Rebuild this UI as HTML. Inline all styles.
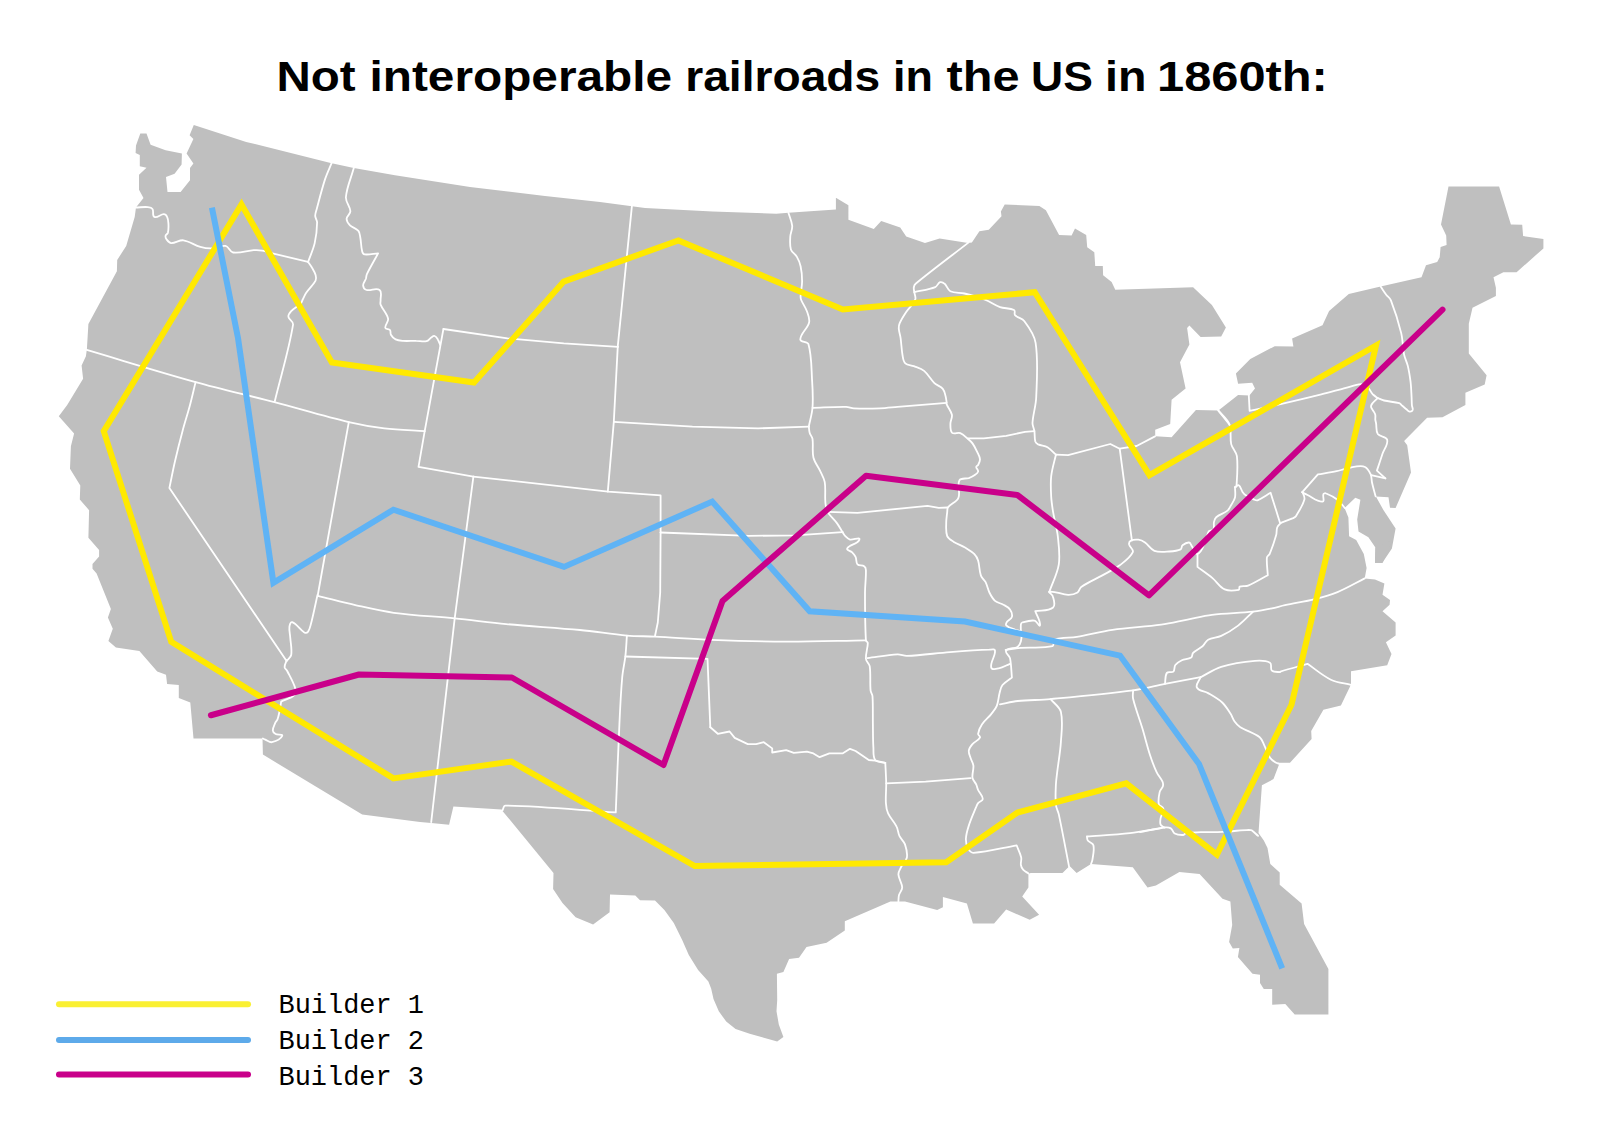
<!DOCTYPE html>
<html><head><meta charset="utf-8"><title>Not interoperable railroads</title>
<style>
html,body{margin:0;padding:0;background:#fff;}
body{width:1600px;height:1131px;overflow:hidden;position:relative;}
svg{position:absolute;left:0;top:0;}
</style></head><body>
<svg width="1600" height="1131" viewBox="0 0 1600 1131">
<rect width="1600" height="1131" fill="#fff"/>
<g font-family="'Liberation Sans', sans-serif" font-weight="bold" font-size="43" fill="#000">
<text x="276.50" y="91.45" textLength="79.13" lengthAdjust="spacingAndGlyphs">Not</text>
<text x="369.50" y="91.45" textLength="302.60" lengthAdjust="spacingAndGlyphs">interoperable</text>
<text x="685.25" y="91.45" textLength="194.88" lengthAdjust="spacingAndGlyphs">railroads</text>
<text x="893.00" y="91.45" textLength="39.88" lengthAdjust="spacingAndGlyphs">in</text>
<text x="946.50" y="91.45" textLength="73.09" lengthAdjust="spacingAndGlyphs">the</text>
<text x="1031.00" y="91.45" textLength="61.85" lengthAdjust="spacingAndGlyphs">US</text>
<text x="1105.00" y="91.45" textLength="41.43" lengthAdjust="spacingAndGlyphs">in</text>
<text x="1157.00" y="91.45" textLength="170.84" lengthAdjust="spacingAndGlyphs">1860th:</text>
</g>
<polygon points="193.8,125 246.2,141.9 330.6,163.1 353.8,168.1 395,175.2 470,186.9 545,195.9 600,202.1 631.9,206.2 645,208.1 712.5,211.5 776.2,213.8 788.4,212.8 835.9,209.6 835.9,197.8 848.4,205.3 848.4,219.8 873.8,229.1 881.2,220.9 900.2,227.5 906.2,236.5 925,242.9 939.6,238.4 968.1,242.9 971.9,242.5 979.4,231.2 988.8,229.8 1001.5,216.2 1000.9,211.6 1004.7,204.6 1039.4,205.9 1045.9,210.2 1059.1,235 1071.6,235.4 1075,228.4 1086.2,235 1087.2,247.2 1094.3,252.2 1095.2,265.9 1102.8,265.9 1103.1,275.3 1111.6,281.9 1115.3,289.8 1193.1,287.2 1211.9,305 1225.9,327.5 1221.2,336.5 1200.6,336.9 1189.4,325.6 1187.1,327.9 1189.4,344.4 1180,362.2 1185.6,388.4 1171.6,399.7 1170.2,424.1 1155.2,429.7 1155.2,436.2 1171.6,437.2 1195.9,410 1218.4,410.6 1238.1,395 1249.4,395.4 1255,388.4 1252.2,382.8 1238.1,383.8 1235.9,373.4 1250.3,359 1274.7,346.2 1293.4,346.6 1292.1,338.4 1322.5,325.2 1329.1,311 1348.8,294.1 1380.6,286.6 1421.5,277.2 1426,265.2 1437.2,261.9 1439.7,257.2 1440.6,246.9 1446.6,245 1446.2,235.6 1441,224.4 1448.5,186.5 1499.1,186.5 1510.9,224.4 1522.2,224.8 1523.1,236 1543.4,239 1543.4,248.4 1516.6,272.2 1503.4,272.2 1493.5,277.2 1495.9,287.8 1495.9,296 1472.5,307.8 1468.8,323.8 1468.8,353.4 1486.6,375.3 1484.7,384.4 1465.4,392.8 1465.4,405 1442.5,417.2 1427.1,417.8 1404.1,441 1407.2,445.3 1411,472.5 1395.6,508.1 1390,507.8 1388.5,497.2 1375.9,496.5 1383.4,510 1395.6,528.4 1391.9,548.4 1382.5,562.5 1375,562.9 1375.4,547.5 1368.4,537.2 1358.5,531.6 1357.2,519.4 1360.4,499.7 1355.3,497.8 1344.6,508.1 1348.4,517.5 1349.1,536.2 1356.2,540 1363.8,554.1 1366.6,568.1 1364.7,578.4 1375,579.4 1384.4,583.5 1382.5,594.8 1390,600 1389.6,604.7 1382.5,611.2 1395.6,622.5 1395.6,635.6 1385.9,642.2 1391.5,654 1387.2,665.2 1351,671.2 1351,684.4 1340.9,705.4 1323.4,709.7 1311.2,730.9 1311.6,739.1 1290,762.8 1279.7,762.8 1273.5,779.1 1261.9,785.3 1258.5,833.1 1263.8,840.6 1267.5,848.1 1270.3,864.1 1279.7,872.5 1279.7,884.7 1301.6,903.4 1304.1,924.1 1328.4,969.1 1328.4,1014.6 1294.7,1014.6 1285.3,1004.1 1272.2,1004.7 1272.2,989.1 1263.8,989.1 1260,983.1 1260,974.7 1252.5,973.8 1237.9,956.9 1239.4,947.9 1232.8,948.4 1229.1,941.9 1232.2,925 1230.4,901.6 1222.5,898.8 1199.6,874 1179.4,872.1 1155.9,885.6 1147.5,887.5 1132.8,867.2 1091,864.1 1076.6,872.9 1069.6,865.9 1062.5,872.9 1030.6,872.9 1028.4,874 1028.4,887.5 1022.2,896.5 1039.1,914.7 1029.7,919.8 1006.2,909.6 994.1,923.5 972.9,923.5 966.9,903.4 942.9,896.9 942.9,907.2 937.2,910 905,901.6 890.4,901.6 844.8,921.2 844.8,930.6 826.6,942.8 806.5,947.1 799,957.8 789.1,959.1 783.4,971.9 776.9,973.8 777.2,1000 776.5,1011.2 778.8,1024.4 783.4,1037.1 777.2,1041.6 749.7,1033.8 735.6,1029.1 726.2,1021.6 718.8,1011.2 713.5,999.1 711.2,988.8 708.4,981.6 698.1,970 688.8,955 682.2,940 673.8,923.1 664.4,910 655,900.6 640,900.2 635.3,895.4 610,894.6 609.6,912.2 593.1,924.6 575.6,917.2 562.5,903.1 553.1,889.1 553.5,873.1 502.5,810.9 501.6,809.4 453.4,806.6 449.1,824.8 431.2,822.9 420,822.1 362.2,814.6 262.9,754.6 262.5,738.5 193.5,738.5 190.3,702.5 178.8,698.1 178.8,685 167.1,684.1 166,674.7 157.2,671.5 139.4,650.9 115.9,647.5 108.4,640.9 112.8,628.8 107.9,617.5 110.9,609.1 96.6,573.4 92.5,568.8 92.5,564.1 99.1,556.6 99.1,550 88.4,537.8 89.1,510.2 79.8,499.4 80.3,485.6 70,468.8 70.9,446.2 74.1,433.5 58.8,416.2 67.2,405 83.1,378.8 81.6,365.6 85.9,356.2 86.9,349.1 88.4,324 116.9,271.2 117.2,260 126.2,245.9 134.7,216.9 136,207.5 137.5,205.6 143.5,198.1 139,189.7 139,174.7 146.5,167.8 139.8,166.2 139.8,155 135.6,153.1 136,145.6 140.3,133.4 146.5,133.4 150.6,144.7 165.6,150.3 181.9,153.5 181.6,164.4 174.6,173.8 166,177.1 167.5,191.9 180.6,191.9 190,180.3 190,168.1 193.4,163.4 186.6,153.5 193.4,139.1 189.6,135.3" fill="#bfbfbf"/>
<polygon points="1375.4,547.5 1375,562.9 1382.5,562.9 1392.8,540" fill="#bfbfbf"/>
<g fill="none" stroke="#fff" stroke-width="1.8" stroke-linejoin="round" stroke-linecap="round">
<path d="M136,207.5 C139.9,207.4 143.9,206.7 147.8,207.1 C149.5,207.3 151.6,207.6 152.5,209 C154.0,211.2 151.9,215.8 154.4,216.9 C157.4,218.2 160.5,214.1 163.8,214.1 C165.2,214.1 166.5,215.6 167.1,216.9 C168.1,218.9 168.3,221.2 168.4,223.4 C168.6,226.5 168.6,229.7 167.9,232.8 C167.6,234.0 165.8,234.4 165.6,235.6 C165.3,236.9 165.8,238.4 166.6,239.4 C167.8,241.0 169.2,243.0 171.2,243.1 C175.4,243.3 179.3,239.8 183.4,240.3 C189.4,241.1 194.5,245.3 200.3,246.9 C204.2,248.0 208.4,248.6 212.5,248.4 C216.9,248.2 221.2,245.0 225.6,245.9 C228.9,246.6 229.8,252.0 233.1,252.5 C240.0,253.5 246.9,250.7 253.8,250.2 C256.6,250.0 259.4,250.1 262.2,250.6 C265.7,251.2 269.0,252.5 272.5,253.4 C284.3,256.3 296.2,259.1 308.1,261.9"/>
<path d="M331.6,163.1 C329.4,168.5 326.8,173.8 325,179.4 C321.8,189.3 319.3,199.4 316.6,209.4 C316.0,211.5 315.1,213.7 315.2,215.9 C315.3,218.2 317.1,220.2 317.1,222.5 C317.0,229.4 316.2,236.4 314.7,243.1 C313.2,249.6 310.3,255.6 308.1,261.9"/>
<path d="M308.1,261.9 C309.4,263.8 310.8,265.5 311.9,267.5 C313.3,269.9 314.8,272.3 315.6,275 C316.1,276.8 316.5,278.9 315.6,280.6 C313.2,285.1 309.1,288.5 306.2,292.8 C304.7,295.0 303.7,297.6 302.5,300 C301.9,301.3 301.6,302.8 300.6,303.8 C297.8,306.6 293.9,308.3 291.2,311.2 C289.8,312.7 288.1,314.8 288.4,316.9 C288.8,319.8 293.6,321.5 293.1,324.4 C288.9,350.4 280.9,375.6 274.8,401.2"/>
<path d="M85.9,349.7 C122.5,360.5 158.9,371.9 195.6,382.1 C221.7,389.4 248.2,395.3 274.4,402.2 C299.2,408.7 323.8,416.2 348.8,422.2 C360.5,425.0 372.4,427.0 384.4,428.4 C397.8,430.0 411.3,430.3 424.7,431.2"/>
<path d="M195.6,382.1 C193.7,389.7 192.0,397.4 190,405 C187.7,413.8 184.8,422.4 182.5,431.2 C179.8,441.2 177.3,451.2 175,461.2 C172.9,470.1 171.3,479.1 169.4,488 L169.4,488 L286.6,661"/>
<path d="M286.9,659.8 C286.1,662.3 284.5,664.6 284.6,667.2 C284.6,668.7 286.5,669.6 287.2,671 C290.1,676.7 293.5,682.3 295.3,688.4 C295.9,690.5 296.0,693.5 294.4,695 C290.8,698.4 285.6,699.4 281.2,701.6 L281.2,701.6 C280.5,705.7 279.8,709.8 279,713.8 C278.6,715.7 278.2,717.6 277.5,719.4 C277.1,720.4 276.0,721.2 275.6,722.2 C274.5,724.9 272.8,727.6 272.8,730.6 C272.8,732.1 274.3,733.3 275.6,734 C277.6,735.1 283.1,733.8 282.2,735.9 C280.5,739.6 275.8,741.3 271.9,742.2 C269.6,742.7 267.5,740.5 265.3,739.6 C264.5,739.3 263.7,738.9 262.9,738.5"/>
<path d="M286.6,661 C288.1,659.0 290.8,657.5 291.2,655 C292.1,649.4 290.7,643.7 290.3,638.1 C290.1,634.4 289.0,630.6 289.4,626.9 C289.6,625.1 290.5,621.6 292.2,622.2 C297.2,624.1 299.8,629.8 304.4,632.5 C305.5,633.1 307.3,632.6 308.1,631.6 C309.7,629.5 310.2,626.7 310.9,624.1 C313.4,614.5 315.3,604.7 317.5,595"/>
<path d="M348.8,422.2 L336.6,490 L317.8,595"/>
<path d="M317.8,595.9 C330.6,599.0 343.3,602.4 356.2,605.3 C368.7,608.1 381.1,611.1 393.8,612.8 C414.0,615.5 434.4,616.4 454.7,618.4 C471.9,620.1 489.0,622.5 506.2,624.1 C530.8,626.4 555.4,627.7 580,630 C595.7,631.5 611.2,634.2 626.9,635.6 C636.2,636.4 645.6,636.1 655,636.6 C673.7,637.5 692.4,639.1 711.2,639.8 C736.2,640.8 761.2,641.5 786.2,641.6 C812.8,641.7 839.3,640.7 865.9,640.3"/>
<path d="M454.7,618.4 L431.2,822.1"/>
<path d="M473.4,476.6 L454.7,618.4"/>
<path d="M353.8,168.1 C351.2,177.8 346.7,187.2 345.9,197.2 C345.5,202.1 350.2,206.3 350.4,211.2 C350.5,214.0 346.7,216.0 346.6,218.8 C346.5,221.2 348.3,223.5 350,225.3 C352.3,227.7 356.2,228.3 358.4,230.9 C359.9,232.6 359.9,235.2 360.3,237.5 C361.2,242.2 361.0,247.0 362.2,251.6 C362.5,252.8 363.4,254.3 364.6,254.4 C369.1,254.9 373.6,253.7 378.1,253.4 L378.1,253.4 C374.4,260.3 370.3,267.0 366.9,274.1 C366.2,275.5 366.4,277.3 365.9,278.8 C365.1,281.0 363.0,282.9 363.1,285.3 C363.2,287.2 364.6,289.5 366.5,290 C370.7,291.2 376.0,287.5 379.6,290 C382.3,291.9 380.4,296.7 380.6,300 C380.7,301.6 380.0,303.2 380.6,304.7 C382.6,309.6 387.0,313.6 388.1,318.8 C388.7,321.9 384.8,324.7 385.3,327.8 C385.6,329.5 388.9,328.7 390,330 C391.0,331.2 390.1,333.3 390.9,334.7 C392.0,336.6 393.6,338.4 395.6,339.4 C397.9,340.6 400.6,340.7 403.1,340.9 C407.5,341.2 411.8,340.8 416.2,340.9 C419.7,340.9 423.2,342.0 426.6,341.2 C428.5,340.8 429.6,338.6 431.2,337.5 C432.2,336.8 433.4,335.7 434.6,336 C436.1,336.4 437.0,338.1 437.8,339.4 C438.9,341.1 439.4,343.1 440.2,345"/>
<path d="M443.4,329.1 L424.7,431.2 L418.5,466.9 L473.4,476.6"/>
<path d="M443.4,329 L507.5,338.4 L563.8,343.4 L618.1,346.8"/>
<path d="M473.4,476.6 L608.1,491.6 L660.6,495.4 L660.6,532.5"/>
<path d="M660.6,532.5 L660.2,592.5 L657.8,622.5 L655,636"/>
<path d="M631.9,206.2 L617.8,345.9 L613.8,421.9 L607.8,491.6"/>
<path d="M613.8,421.9 L692.5,426.6 L758.1,428.4 L808.8,426.6"/>
<path d="M660.6,532.5 L748.8,535.9 L795.6,535.3 L842.5,532.1"/>
<path d="M788.4,212.8 C789.7,217.2 791.8,221.4 792.2,225.9 C792.5,229.4 790.5,232.7 790.3,236.2 C790.1,240.6 789.6,245.2 790.9,249.4 C791.9,252.5 795.3,254.1 796.9,256.9 C798.6,259.8 799.9,262.9 800.6,266.2 C801.7,271.1 802.1,276.2 802.1,281.2 C802.1,286.2 800.8,291.2 800.6,296.2 C800.5,297.5 800.7,298.8 801.2,300 C802.8,303.9 805.5,307.2 806.9,311.2 C808.2,314.8 810.0,318.8 809.1,322.5 C807.7,328.7 800.5,333.1 800.3,339.4 C800.2,342.5 807.5,341.1 808.4,344.1 C811.8,355.9 811.3,368.4 812.1,380.6 C812.7,389.6 813.1,398.8 812.5,407.8 C812.0,414.2 810.0,420.3 808.8,426.6"/>
<path d="M808.8,426.6 C809.1,428.8 809.1,431.0 809.7,433.1 C810.3,435.1 812.2,436.7 812.5,438.8 C813.4,445.0 812.0,451.4 813.4,457.5 C814.5,462.3 817.9,466.2 820,470.6 C821.7,474.3 824.0,477.9 824.7,481.9 C825.7,487.4 825.0,493.2 825.2,498.8 C825.3,500.7 825.3,502.6 825.6,504.4 C826.0,506.9 826.2,509.7 827.5,511.9 C830.0,516.1 834.0,519.2 836.9,523.1 C839.0,525.9 840.6,529.1 842.5,532.1"/>
<path d="M842.5,532.1 C843.4,533.5 844.1,535.0 845.3,536.2 C846.7,537.6 848.1,539.1 850,539.6 C853.0,540.3 860.4,536.6 859.4,539.6 C857.9,544.4 849.8,544.1 847.2,548.4 C846.2,550.1 850.5,550.8 851.9,552.2 C853.3,553.6 854.8,555.1 855.6,556.9 C856.7,559.2 855.8,562.5 857.5,564.4 C859.0,566.1 862.2,564.9 864.1,566.2 C865.3,567.0 865.9,568.6 865.9,570 C866.2,577.5 865.0,585.0 865,592.5 C865.0,608.4 865.0,624.4 865.9,640.3 C866.0,641.4 867.8,642.0 867.8,643.1 C867.8,648.4 865.5,653.5 865.9,658.8 C866.1,661.6 869.3,663.5 869.7,666.2 C870.9,674.3 869.8,682.5 870.6,690.6 C870.8,692.6 872.4,694.2 872.5,696.2 C873.1,705.6 872.7,715.0 872.9,724.4 C873.0,732.2 872.9,740.0 873.4,747.8 C873.7,751.9 872.7,756.8 875.3,760 C877.5,762.7 882.0,761.9 885.3,762.8"/>
<path d="M812.5,407.8 C823.7,407.5 835.0,406.7 846.2,406.9 C848.8,406.9 851.2,408.3 853.8,408.4 C862.5,408.8 871.3,408.7 880,408.4 C885.9,408.2 891.7,407.4 897.5,406.9 C913.9,405.5 930.2,404.2 946.6,402.8"/>
<path d="M827.5,511.9 L857.5,512.8 L927.5,505.9 L938.8,507.8 L947.5,507.5"/>
<path d="M502.5,810.3 C503.4,808.7 503.5,805.6 505.3,805.6 C542.2,806.3 578.9,810.1 615.75,812.4 L615.75,812.4 C617.0,783.1 618.0,753.7 619.4,724.4 C620.1,708.8 620.8,693.1 622.2,677.5 C622.8,670.2 624.6,663.1 625.4,655.9 C626.2,649.2 626.4,642.4 626.9,635.6"/>
<path d="M625.4,656.5 L707.5,658.8 L710.3,727.2"/>
<path d="M710.3,727.2 L717.8,733.8 L729.6,731.5 L734.7,737.9 L747.8,744.1 L756.2,744.1 L763.8,742.2 L772.2,748.4 L772.2,752.5 L786.2,750.2 L793.8,752.9 L806.9,751.6 L813.4,753.4 L819.6,757.2 L829.4,753.4 L842.5,753.4 L850,748.8 L855.6,751 L868.8,760 L875.3,760.6 L885.3,762.8"/>
<path d="M885.3,762.8 C885.6,769.7 886.1,776.5 886.2,783.4 C886.3,790.0 885.5,796.5 885.9,803.1 C886.1,806.6 886.6,810.2 888.1,813.4 C890.3,818.2 894.3,821.9 896.6,826.6 C898.1,829.5 898.0,833.0 899.4,835.9 C900.8,839.0 903.9,841.2 905,844.4 C906.4,848.6 907.6,853.1 906.9,857.5 C906.3,861.1 902.8,863.6 901.2,866.9 C900.0,869.3 898.3,871.7 898.4,874.4 C898.6,878.9 902.1,883.0 902.2,887.5 C902.3,890.2 899.7,892.4 899,895 C898.4,897.1 898.6,899.4 898.4,901.6"/>
<path d="M886.2,783.4 L925.6,781.6 L970.6,778.2"/>
<path d="M867.5,658.1 C877.5,656.9 887.4,655.0 897.5,654.4 C900.7,654.2 903.7,656.0 906.9,655.9 C921.3,655.3 935.6,653.2 950,652.1 C963.1,651.1 976.2,650.1 989.4,649.7 C991.3,649.6 994.8,648.7 995,650.6 C995.6,656.3 990.0,661.9 991.2,667.5 C991.7,670.0 996.3,668.9 998.8,668.4 C1002.8,667.6 1006.3,665.3 1010,663.8"/>
<path d="M968.1,242.9 C950.6,256.5 932.7,269.7 915.6,283.8 C914.5,284.7 914.0,286.1 913.8,287.5 C913.6,289.1 914.1,290.6 914.3,292.2 C914.6,294.7 916.2,297.4 915.2,299.7 C913.3,304.4 909.0,307.7 906.2,311.9 C903.8,315.5 901.4,319.1 899.7,323.1 C898.9,324.9 898.7,326.9 898.8,328.8 C899.0,332.0 900.2,335.0 900.6,338.1 C901.4,343.7 901.5,349.4 902.5,355 C903.0,357.9 903.2,361.3 905.3,363.4 C907.4,365.5 911.0,365.1 913.8,366.2 C917.3,367.6 921.2,368.5 924.1,370.9 C928.2,374.3 930.6,379.4 934.4,383.1 C936.8,385.4 940.6,386.2 942.8,388.8 C944.5,390.8 944.9,393.7 945.6,396.2 C946.1,398.1 946.3,400.1 946.6,402.1 C946.7,402.8 946.3,403.5 946.6,404.1 C948.1,407.8 951.1,410.9 951.9,414.8 C952.5,417.8 950.3,420.8 950.4,423.8 C950.5,426.9 950.0,430.7 952.2,432.8 C954.2,434.6 957.8,432.1 960.3,433.1 C963.2,434.2 965.4,436.8 967.8,438.8 C969.5,440.2 971.2,441.6 972.5,443.4 C974.4,446.0 975.8,449.0 977.2,451.9 C978.3,454.3 979.8,456.7 980,459.4 C980.1,461.4 979.0,463.2 978.1,465 C977.7,465.8 976.2,466.0 976.2,466.9 C976.2,468.6 978.5,469.9 978.1,471.6 C977.7,473.3 975.8,474.3 974.4,475.3 C972.7,476.5 970.8,477.4 968.8,478.1 C965.7,479.1 960.9,477.5 959.4,480.4 C956.7,485.5 960.7,492.4 958.4,497.8 C956.6,502.1 951.0,503.5 948.1,507.2 C947.1,508.5 947.4,510.5 947.2,512.1 C946.8,515.8 946.2,519.4 946.2,523.1 C946.2,527.5 945.6,532.1 947.2,536.2 C948.3,538.9 951.3,540.3 953.8,541.9 C957.3,544.1 961.4,545.4 965,547.5 C968.3,549.5 971.7,551.4 974.4,554.1 C976.2,555.9 977.4,558.2 978.1,560.6 C979.6,565.5 979.2,570.8 980.9,575.6 C981.8,578.2 984.4,579.8 985.6,582.2 C987.2,585.5 987.8,589.2 989.4,592.5 C990.9,595.5 992.5,598.7 995,600.9 C997.3,602.9 1000.7,603.2 1003.4,604.7 C1005.7,606.0 1008.5,607.2 1010,609.4 C1011.5,611.5 1012.5,614.4 1011.9,616.9 C1011.4,619.1 1008.4,619.8 1007.2,621.6 C1006.5,622.7 1005.3,624.4 1006.2,625.3 C1008.7,627.8 1012.4,628.6 1015.6,630 C1017.3,630.8 1020.1,630.2 1020.9,631.9 C1022.2,634.7 1021.6,638.2 1020.9,641.2 C1020.4,643.4 1019.4,645.7 1017.5,646.9 C1014.2,649.0 1008.4,647.3 1006.2,650.6 C1004.6,652.9 1009.4,655.4 1010,658.1 C1011.3,664.5 1011.3,671.0 1011.9,677.5 L1011.9,677.5 C1008.8,680.0 1005.0,681.9 1002.5,685 C1000.8,687.1 1000.4,689.9 999.7,692.5 C998.5,696.8 998.5,701.4 996.9,705.6 C995.7,708.8 993.3,711.4 991.2,714.1 C988.3,717.7 984.5,720.5 981.9,724.4 C980.0,727.2 978.6,730.5 978.1,733.8 C977.9,735.2 980.7,736.3 980,737.5 C978.4,740.4 974.7,741.6 972.5,744.1 C970.9,746.0 969.1,748.1 968.8,750.6 C968.5,753.1 969.8,755.6 970.6,758.1 C971.4,760.7 973.1,762.9 973.4,765.6 C973.8,769.7 971.9,773.8 972.5,777.8 C972.9,780.3 975.1,782.1 976.2,784.4 C977.0,786.2 977.3,788.2 978.1,790 C979.5,793.1 982.8,795.6 982.8,799 C982.8,801.1 979.4,801.5 978.1,803.1 C977.2,804.2 976.7,805.6 976.2,806.9 C973.6,813.1 970.9,819.2 968.8,825.6 C967.4,829.9 966.1,834.3 965.9,838.8 C965.8,842.0 966.3,845.3 967.8,848.1 C969.0,850.2 971.0,852.9 973.4,852.8 C988.0,852.0 1002.2,847.8 1016.6,845.3 L1016.6,845.3 C1018.1,849.4 1020.3,853.3 1021.2,857.5 C1021.7,859.9 1020.5,862.5 1020.9,865 C1021.2,866.7 1021.9,868.4 1023.1,869.7 C1024.5,871.3 1026.6,872.2 1028.4,873.4"/>
<path d="M914.3,292.2 C921.3,290.5 928.6,289.7 935.3,287.1 C937.4,286.3 937.9,282.9 940,282.2 C941.6,281.7 943.5,282.7 944.7,283.8 C947.0,285.8 947.5,289.8 950.3,291.2 C954.6,293.3 959.8,292.4 964.4,293.5 C971.4,295.2 978.3,297.1 985,299.7 C990.2,301.7 994.7,305.3 1000,307.2 C1004.5,308.8 1009.9,307.7 1014.1,310 C1015.7,310.8 1013.8,313.9 1015,315.2 C1017.5,317.9 1022.2,318.2 1024.4,321.2 C1029.3,327.7 1034.4,334.8 1035.6,342.8 C1038.4,360.8 1036.9,379.3 1036.2,397.5 C1035.9,406.0 1033.0,414.3 1032.5,422.8 C1032.3,425.7 1034.0,428.4 1034.4,431.2 C1034.9,434.6 1034.4,438.2 1035.3,441.6 C1035.7,442.9 1036.9,443.8 1038.1,444.4 C1041.1,445.8 1044.7,445.6 1047.5,447.2 C1050.7,449.1 1053.1,452.2 1055.9,454.7"/>
<path d="M967.8,438.4 L983.8,438.4 L1006.2,435.9 L1025,431.8 L1034.4,431.2"/>
<path d="M1055.9,454.7 L1068.1,455.2 L1110.3,444 L1119.7,448.7 L1136.6,446 L1155,436.4"/>
<path d="M1055.9,454.7 C1054.3,461.9 1052.0,468.9 1051.2,476.2 C1050.4,483.1 1050.8,490.0 1051.2,496.9 C1051.5,502.0 1052.3,507.1 1053.1,512.1 C1054.5,520.2 1056.9,528.1 1057.8,536.2 C1058.8,545.6 1060.2,555.1 1058.8,564.4 C1057.4,573.9 1052.5,582.5 1049.4,591.6"/>
<path d="M1020.9,631.9 C1020.9,629.4 1020.6,626.9 1020.9,624.4 C1021.0,623.6 1021.5,622.7 1022.2,622.5 C1026.2,621.4 1030.3,620.0 1034.4,620.6 C1036.8,621.0 1039.8,627.7 1040,625.3 C1040.5,620.4 1036.9,615.9 1035.3,611.2 L1035.3,611.2 C1041.2,610.0 1048.5,611.4 1053.1,607.5 C1056.0,605.0 1053.7,599.9 1052.8,596.2 C1052.4,594.3 1047.5,591.8 1049.4,591.6 C1055.7,591.0 1061.8,594.6 1068.1,594.8 C1071.3,594.9 1074.7,594.2 1077.5,592.5 C1079.4,591.3 1079.4,588.2 1081.2,586.9 C1087.7,582.4 1095.0,579.4 1101.9,575.6 C1107.9,572.2 1114.2,569.4 1119.7,565.3 C1124.6,561.6 1130.3,557.8 1132.8,552.2 C1134.0,549.6 1129.6,547.2 1129.1,544.4 C1128.9,543.0 1129.6,541.2 1130.9,540.6 C1133.1,539.5 1135.9,539.4 1138.4,539.7 C1140.8,540.0 1143.0,541.1 1145,542.5 C1148.4,544.9 1150.5,549.4 1154.4,550.9 C1159.1,552.6 1164.4,551.8 1169.4,551.5 C1173.2,551.3 1177.2,551.0 1180.6,549.4 C1182.0,548.8 1181.3,546.2 1182.5,545.3 C1184.4,543.8 1186.7,542.3 1189.1,542.5 C1190.6,542.6 1191.0,545.0 1191.9,546.2 C1193.8,548.7 1194.5,554.7 1197.5,553.8 C1201.9,552.6 1203.0,546.5 1205,542.5 C1206.8,538.9 1206.7,534.5 1208.8,531.2 C1209.7,529.8 1212.6,530.8 1213.4,529.4 C1214.6,527.2 1213.4,524.3 1214,521.9 C1214.4,520.2 1214.9,518.3 1216.2,517.2 C1219.5,514.4 1224.1,513.4 1227.5,510.6 C1229.2,509.2 1230.1,506.9 1231.2,505 C1232.6,502.6 1234.4,500.2 1235,497.5 C1235.7,494.1 1235.0,490.6 1235,487.2"/>
<path d="M1119.7,448.7 L1131.9,540.5"/>
<path d="M1218.1,410.3 C1221.9,415.0 1227.2,418.8 1229.4,424.4 C1231.8,430.5 1229.7,437.7 1231.2,444.1 C1232.2,448.4 1236.3,451.8 1236.9,456.2 C1238.1,466.1 1237.1,476.2 1236.5,486.2 C1236.5,486.8 1235.5,486.9 1235,487.2"/>
<path d="M1235,487.2 C1236.3,486.6 1237.6,484.5 1238.8,485.3 C1240.9,486.6 1241.0,489.9 1242.5,491.9 C1243.5,493.3 1244.7,494.6 1246.2,495.6 C1248.6,497.2 1251.2,498.3 1253.8,499.4 C1255.0,499.9 1256.3,500.8 1257.5,500.3 C1262.2,498.5 1266.2,495.3 1270.6,492.8 L1270.6,492.8 C1272.5,498.7 1274.3,504.7 1276.2,510.6 C1277.5,514.7 1278.7,518.7 1280,522.8"/>
<path d="M1280.9,522.8 C1285.0,521.2 1289.1,519.9 1293.1,518.1 C1294.1,517.6 1295.3,517.2 1295.9,516.2 C1299.1,510.8 1302.8,505.5 1304.4,499.4 C1305.1,496.9 1303.1,494.4 1302.5,491.9 L1302.5,491.9 L1317.9,474.4 L1317.9,474.4 C1324.1,473.3 1330.4,472.3 1336.6,471.1 C1339.3,470.6 1342.0,469.7 1344.75,469.1 C1348.3,468.3 1351.7,467.0 1355.3,466.65 C1358.5,466.3 1362.1,465.5 1365,467 C1367.8,468.4 1369.4,471.6 1370.7,474.4 C1371.8,476.9 1371.4,479.8 1372,482.5 C1373.0,487.1 1374.4,491.7 1375.6,496.3"/>
<path d="M1371.2,475.2 L1385.4,478.4"/>
<path d="M1301.9,492.2 C1303.8,493.1 1305.6,494.1 1307.5,495 C1312.5,497.3 1317.0,501.9 1322.5,501.6 C1325.0,501.5 1322.4,496.4 1323.4,494.1 C1323.8,493.2 1325.3,493.1 1326.2,493.5 C1330.2,495.1 1334.1,497.1 1337.5,499.7 C1340.5,502.0 1342.5,505.3 1345,508.1"/>
<path d="M1197.5,553.8 L1197.5,566.9 L1197.5,566.9 C1202.5,570.6 1207.7,574.1 1212.5,578.1 C1216.8,581.6 1219.6,587.1 1224.7,589.4 C1229.0,591.3 1234.2,590.7 1238.8,589.8 C1239.9,589.6 1238.7,587.1 1239.7,586.6 C1242.3,585.4 1245.5,586.7 1248.1,585.6 C1255.0,582.8 1261.2,578.7 1267.8,575.3 L1267.8,575.3 C1267.5,569.4 1266.4,563.4 1266.9,557.5 C1267.0,556.0 1269.1,555.2 1269.7,553.8 C1272.2,547.7 1274.4,541.4 1276.2,535 C1276.9,532.6 1276.3,529.9 1277.2,527.5 C1277.9,525.6 1279.7,524.4 1280.9,522.8"/>
<path d="M1005.6,650 C1010.6,649.3 1015.6,648.2 1020.6,647.8 C1031.2,646.9 1042.1,648.7 1052.5,646.2 C1054.7,645.7 1052.3,640.5 1054.4,639.7 C1061.5,637.0 1069.4,638.2 1076.9,636.9 C1088.8,634.9 1100.5,631.5 1112.5,629.8 C1128.7,627.5 1145.0,626.9 1161.2,624.7 C1170.0,623.5 1178.7,621.3 1187.5,619.6 C1195.6,618.0 1203.7,615.8 1211.9,614.8 C1225.6,613.1 1239.4,613.1 1253.1,611.6 C1259.4,610.9 1265.7,609.7 1271.9,608.4 C1276.3,607.5 1280.6,606.1 1285,605.2 C1295.0,603.0 1305.1,601.6 1315,599.1 C1322.6,597.2 1330.2,595.1 1337.5,592.1 C1346.9,588.2 1355.6,583.0 1364.7,578.4"/>
<path d="M1253.1,611.6 C1248.1,616.3 1243.5,621.5 1238.1,625.6 C1232.9,629.6 1227.2,633.1 1221.2,635.9 C1217.1,637.8 1212.1,637.5 1208.1,639.7 C1205.6,641.1 1204.7,644.3 1202.5,646.2 C1199.6,648.7 1195.8,650.1 1193.1,652.8 C1191.9,654.0 1192.6,656.6 1191.2,657.5 C1188.5,659.3 1184.8,658.9 1181.9,660.3 C1179.5,661.5 1176.9,662.8 1175.3,665 C1173.9,666.8 1175.1,670.0 1173.4,671.6 C1171.8,673.1 1168.2,671.1 1166.9,672.9 C1164.8,675.9 1165.6,680.2 1165,683.8"/>
<path d="M1000,704.4 C1005.9,703.3 1011.8,701.6 1017.8,701 C1028.7,699.9 1039.7,700.1 1050.6,699.1 C1078.1,696.5 1105.7,694.0 1133.1,690.3 C1143.9,688.9 1154.3,685.9 1165,683.8 C1176.8,681.5 1188.7,679.4 1200.6,677.2"/>
<path d="M1200.6,677.2 C1207.5,673.8 1213.8,669.1 1221.2,666.9 C1232.2,663.6 1243.6,661.9 1255,660.9 C1260.0,660.5 1265.6,660.3 1270,662.8 C1272.3,664.1 1269.9,668.8 1271.9,670.6 C1274.0,672.5 1277.5,671.8 1280.3,672.1 C1280.5,672.1 1280.1,671.6 1280.3,671.6 C1289.3,668.8 1298.4,666.4 1307.5,663.8 L1307.5,663.8 C1315.3,669.1 1322.4,675.6 1330.9,679.7 C1337.1,682.7 1344.3,683.1 1351,684.8"/>
<path d="M1200.6,677.2 C1199.4,680.6 1195.3,684.2 1196.9,687.5 C1198.7,691.3 1204.5,691.0 1208.1,693.1 C1213.0,696.0 1218.0,698.7 1222.2,702.5 C1225.7,705.7 1228.0,709.9 1230.6,713.8 C1232.1,716.1 1232.8,718.9 1234.4,721.2 C1236.0,723.4 1237.7,725.5 1240,726.9 C1246.3,730.9 1253.8,732.7 1259.7,737.2 C1262.2,739.2 1263.0,742.7 1264.4,745.6 C1266.4,749.6 1267.5,754.1 1270,757.8 C1271.3,759.8 1273.5,761.2 1275.6,762.5 C1276.8,763.3 1278.3,763.4 1279.7,763.8"/>
<path d="M1050.6,699.1 C1054.0,703.4 1059.6,706.6 1060.9,711.9 C1063.2,721.6 1061.5,731.9 1060.9,741.9 C1060.3,752.0 1058.4,762.0 1057.2,772.1 C1056.7,776.2 1056.1,780.3 1055.9,784.4 C1055.6,791.3 1055.2,798.2 1055.9,805 C1056.2,808.3 1058.1,811.2 1058.8,814.4 C1062.5,831.8 1065.7,849.4 1069.1,866.9"/>
<path d="M1133.1,690.3 C1133.1,693.1 1132.4,696.0 1133.1,698.8 C1135.6,709.0 1139.5,718.8 1142.5,728.8 C1145.1,737.5 1147.2,746.4 1150,755 C1151.9,760.8 1154.0,766.6 1156.6,772.1 C1158.2,775.5 1161.0,778.2 1162.5,781.6 C1163.1,783.0 1163.3,784.7 1162.9,786.2 C1162.3,788.3 1160.2,789.8 1159.7,791.9 C1158.8,795.9 1157.9,800.1 1158.8,804.1 C1159.3,806.2 1163.1,806.6 1163.4,808.8 C1163.8,812.0 1161.2,814.9 1160.6,818.1 C1160.2,820.3 1159.8,822.7 1160.6,824.7 C1161.2,826.2 1163.1,826.6 1164.4,827.5"/>
<path d="M1140,832.2 C1148.1,830.6 1156.2,828.5 1164.4,827.5 C1166.6,827.2 1169.0,827.3 1170.9,828.4 C1172.7,829.5 1172.8,832.5 1174.7,833.5 C1177.2,834.9 1180.3,835.1 1183.1,835 C1184.2,835.0 1184.8,833.3 1185.9,833.1 C1190.8,832.3 1195.9,832.4 1200.9,832.2 C1208.1,831.9 1215.3,832.2 1222.5,831.8 C1231.3,831.4 1240.0,830.3 1248.8,829.8 C1249.7,829.8 1250.8,829.8 1251.6,830.3 C1254.0,831.9 1255.9,834.0 1258.1,835.9"/>
<path d="M1091,864.1 C1091.5,862.5 1092.3,861.0 1092.5,859.4 C1093.1,854.7 1094.5,849.9 1093.4,845.3 C1092.8,842.9 1089.2,842.6 1087.8,840.6 C1087.0,839.5 1087.2,837.9 1086.9,836.5 L1086.9,836.5 C1101.3,835.4 1115.7,834.7 1130,833.1 C1140.1,832.0 1150.0,830.0 1160,828.4"/>
<path d="M1248.8,395.4 L1249.6,410.8 L1249.6,410.8 C1259.9,408.6 1270.3,406.5 1280.6,404.1 C1294.2,401.0 1307.8,397.8 1321.3,394.4 C1329.5,392.4 1337.7,390.0 1345.9,387.9 C1350.9,386.6 1355.8,384.6 1361,384.2 C1363.0,384.1 1364.8,385.5 1366.5,386.5 C1367.6,387.2 1368.6,388.3 1369.4,389.3 C1370.2,390.3 1370.7,391.5 1371.4,392.5 C1371.9,393.2 1372.4,393.9 1373,394.5 C1374.5,395.8 1376.1,396.9 1377.7,398.1"/>
<path d="M1380.6,286.6 C1382.5,289.3 1384.2,292.1 1386.2,294.7 C1387.7,296.6 1390.0,298.0 1390.9,300.3 C1395.1,311.0 1398.5,322.0 1401.2,333.1 C1402.9,340.2 1402.7,347.6 1404.1,354.7 C1404.9,358.6 1406.9,362.1 1407.8,365.9 C1409.1,371.2 1409.9,376.7 1410.6,382.1 C1411.2,387.2 1411.3,392.4 1411.6,397.5 C1411.7,400.1 1411.7,402.6 1411.9,405.2 C1412.0,406.8 1413.2,408.5 1412.7,410 C1412.3,411.1 1410.8,411.7 1409.6,411.6 C1408.3,411.4 1407.4,410.0 1406.4,409.2 C1404.8,407.9 1403.2,406.5 1401.6,405.2 C1400.8,404.5 1400.2,403.5 1399.2,403.2 C1394.3,401.9 1389.1,401.7 1384.1,400.5 C1381.9,400.0 1379.8,398.9 1377.7,398.1"/>
<path d="M1377.7,398.1 C1375.9,399.9 1373.8,401.5 1372.2,403.6 C1371.5,404.5 1370.8,405.7 1371,406.8 C1371.4,408.6 1372.9,410.0 1373.75,411.6 C1374.3,412.6 1375.1,413.6 1375.3,414.8 C1375.6,416.4 1375.2,418.0 1375.3,419.6 C1375.4,420.9 1375.9,422.2 1376.1,423.5 C1376.7,427.0 1375.8,431.1 1377.8,434.1 C1379.9,437.1 1386.4,436.2 1387.2,439.7 C1388.3,444.5 1384.1,449.1 1382.5,453.8 C1380.6,459.4 1378.8,465.0 1376.9,470.6 L1376.9,470.6 L1385.4,478.4"/>
<path d="M1218.4,410.6 L1229.4,424.4"/>
</g>
<polygon points="241.5,204.5 331.9,362.5 474,382.5 563.75,281.6 678.4,240.4 842.8,309.4 1034.7,292.2 1149.5,475.2 1376,345.5 1291.5,704.8 1216.9,854.7 1126.25,783.4 1017.5,812.5 946.25,862.2 694.8,866 511.5,761.6 393.4,778.4 171.25,641.9 103.75,431.25" fill="none" stroke="#ffe900" stroke-width="6" stroke-linejoin="miter" stroke-miterlimit="10"/>
<polyline points="211.9,207.7 238,338 273.4,582.8 393.4,509.7 564,566.9 712.2,501.6 809.7,611.25 965,621.6 1120,655.6 1199.1,764.1 1282.2,968.4" fill="none" stroke="#5fb3f5" stroke-width="6" stroke-linejoin="miter" stroke-linecap="butt"/>
<polyline points="210.9,715.25 359,674.5 511.9,677.5 663.5,765 722.5,600.9 866,475.8 1017.3,495 1149,595.3 1442.5,309.7" fill="none" stroke="#c9008a" stroke-width="6" stroke-linejoin="round" stroke-linecap="round"/>
<g stroke-width="6" stroke-linecap="round">
<line x1="59" y1="1004.2" x2="248" y2="1004.2" stroke="#faf032"/>
<line x1="59" y1="1040" x2="248" y2="1040" stroke="#5daaea"/>
<line x1="59" y1="1074.5" x2="248" y2="1074.5" stroke="#c9008a"/>
</g>
<g font-family="'Liberation Mono', monospace" font-size="28.5" fill="#000">
<text x="278.5" y="1013.2" textLength="145.5" lengthAdjust="spacingAndGlyphs">Builder 1</text>
<text x="278.5" y="1048.9" textLength="145.5" lengthAdjust="spacingAndGlyphs">Builder 2</text>
<text x="278.5" y="1084.8" textLength="145.5" lengthAdjust="spacingAndGlyphs">Builder 3</text>
</g>
</svg>
</body></html>
